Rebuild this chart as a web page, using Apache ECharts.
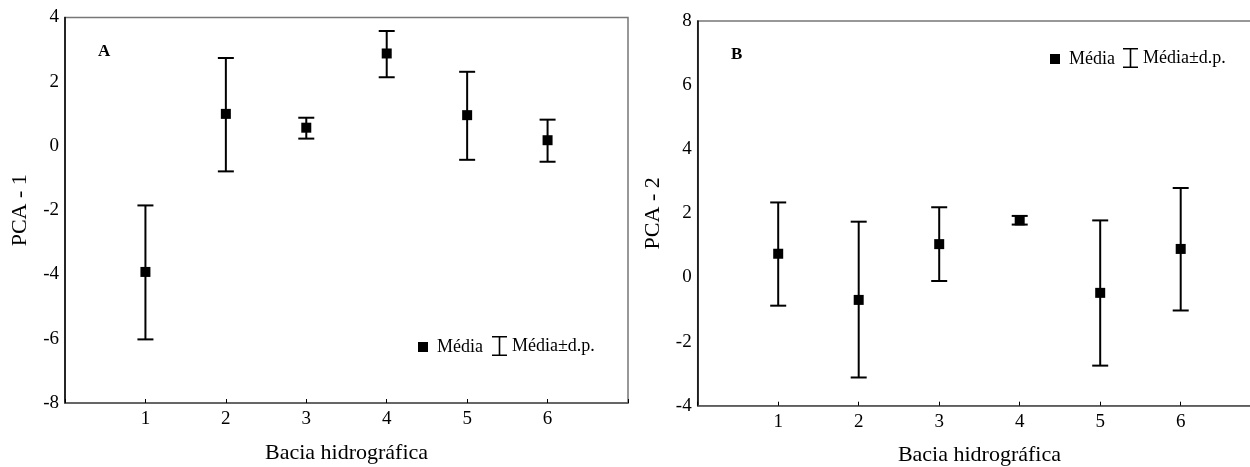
<!DOCTYPE html>
<html>
<head>
<meta charset="utf-8">
<script src="https://cdn.jsdelivr.net/npm/echarts@6/dist/echarts.min.js"></script>
<style>
  html, body { margin: 0; padding: 0; background: #fff; }
  #chart { width: 1250px; height: 467px; }
</style>
</head>
<body>
<div id="chart"></div>
<script>
// Bacias (eixo x)
const basins = [1, 2, 3, 4, 5, 6];
const xTickLabels = ['1', '2', '3', '4', '5', '6'];

// Painel A - PCA 1
const pca1Mean = [-3.92, 1.00, 0.57, 2.88, 0.96, 0.18];
const pca1Upper = [-1.85, 2.74, 0.88, 3.58, 2.31, 0.82];
const pca1Lower = [-6.02, -0.79, 0.23, 2.14, -0.43, -0.49];

// Painel B - PCA 2
const pca2Mean = [0.74, -0.70, 1.04, 1.78, -0.48, 0.89];
const pca2Upper = [2.34, 1.74, 2.19, 1.92, 1.78, 2.79];
const pca2Lower = [-0.88, -3.12, -0.11, 1.65, -2.75, -1.03];

const FONT = '"Liberation Serif", "Times New Roman", serif';
const IBEAM = 'path://M0,0 H15 V1.6 H8.3 V18.4 H15 V20 H0 V18.4 H6.7 V1.6 H0 Z';

const chart = echarts.init(document.getElementById('chart'));

function errorBar(params, api) {
    const x = api.value(0);
    const top = api.coord([x, api.value(2)]);
    const bot = api.coord([x, api.value(1)]);
    const half = 8;
    const style = { stroke: '#000', lineWidth: 2 };
    return {
        type: 'group',
        children: [
            { type: 'line', shape: { x1: top[0], y1: top[1], x2: bot[0], y2: bot[1] }, style },
            { type: 'line', shape: { x1: top[0] - half, y1: top[1], x2: top[0] + half, y2: top[1] }, style },
            { type: 'line', shape: { x1: bot[0] - half, y1: bot[1], x2: bot[0] + half, y2: bot[1] }, style }
        ]
    };
}

function xAxisCfg(gridIndex) {
    return {
        gridIndex, type: 'value', min: 0, max: 7, interval: 1,
        name: 'Bacia hidrográfica', nameLocation: 'middle', nameGap: 39,
        nameTextStyle: { fontFamily: FONT, fontSize: 22, color: '#000' },
        axisLine: { onZero: false, lineStyle: { color: '#555', width: 1.5 } },
        axisTick: { inside: true, length: 4, lineStyle: { color: '#000' } },
        axisLabel: {
            fontFamily: FONT, fontSize: 19, color: '#000', margin: 7,
            formatter: v => (v >= 1 && v <= 6 ? xTickLabels[v - 1] : '')
        },
        splitLine: { show: false }
    };
}

function yAxisCfg(gridIndex, name, min, max, gap) {
    return {
        gridIndex, type: 'value', min, max, interval: 2,
        name, nameLocation: 'middle', nameGap: gap,
        nameTextStyle: { fontFamily: FONT, fontSize: 22, color: '#000' },
        axisLine: { lineStyle: { color: '#000', width: 1.5 } },
        axisTick: { show: false },
        axisLabel: { fontFamily: FONT, fontSize: 19, color: '#000', margin: 6 },
        splitLine: { show: false }
    };
}

function legendPair(left1, left2, top) {
    const txt = { fontFamily: FONT, fontSize: 18, color: '#000' };
    return [
        { data: ['Média'], left: left1, top: top - 3, padding: 0, icon: 'rect',
          itemWidth: 10, itemHeight: 10, textStyle: Object.assign({ padding: [0, 0, 0, 4] }, txt) },
        { data: [{ name: 'Média±d.p.', icon: IBEAM }], left: left2, top: top - 5, padding: 0,
          itemWidth: 15, itemHeight: 20, textStyle: txt }
    ];
}

const zip = (m) => basins.map((b, i) => [b, m[i]]);
const zipErr = (lo, hi) => basins.map((b, i) => [b, lo[i], hi[i]]);

chart.setOption({
    backgroundColor: '#fff',
    animation: false,
    title: [
        { text: 'A', left: 93, top: 38, textStyle: { fontFamily: FONT, fontSize: 17, fontWeight: 'bold', color: '#000' } },
        { text: 'B', left: 726, top: 41, textStyle: { fontFamily: FONT, fontSize: 17, fontWeight: 'bold', color: '#000' } }
    ],
    legend: [...legendPair(418, 492, 341), ...legendPair(1050, 1123, 53)],
    grid: [
        { left: 65, top: 17.5, width: 563, height: 385.5, show: true, borderColor: '#777', borderWidth: 1.5,
          outerBoundsMode: 'none' },
        { left: 697.7, top: 21, width: 563.5, height: 384.7, show: true, borderColor: '#777', borderWidth: 1.5,
          outerBoundsMode: 'none' }
    ],
    xAxis: [xAxisCfg(0), xAxisCfg(1)],
    yAxis: [yAxisCfg(0, 'PCA - 1', -8, 4, 34), yAxisCfg(1, 'PCA - 2', -4, 8, 33)],
    series: [
        { name: 'Média±d.p.', type: 'custom', xAxisIndex: 0, yAxisIndex: 0, renderItem: errorBar,
          itemStyle: { color: '#000' }, encode: { x: 0, y: [1, 2] }, data: zipErr(pca1Lower, pca1Upper), z: 2 },
        { name: 'Média', type: 'scatter', xAxisIndex: 0, yAxisIndex: 0, symbol: 'rect', symbolSize: 10,
          itemStyle: { color: '#000', opacity: 1 }, data: zip(pca1Mean), z: 3 },
        { name: 'Média±d.p.', type: 'custom', xAxisIndex: 1, yAxisIndex: 1, renderItem: errorBar,
          itemStyle: { color: '#000' }, encode: { x: 0, y: [1, 2] }, data: zipErr(pca2Lower, pca2Upper), z: 2 },
        { name: 'Média', type: 'scatter', xAxisIndex: 1, yAxisIndex: 1, symbol: 'rect', symbolSize: 10,
          itemStyle: { color: '#000', opacity: 1 }, data: zip(pca2Mean), z: 3 }
    ]
});
</script>
</body>
</html>
